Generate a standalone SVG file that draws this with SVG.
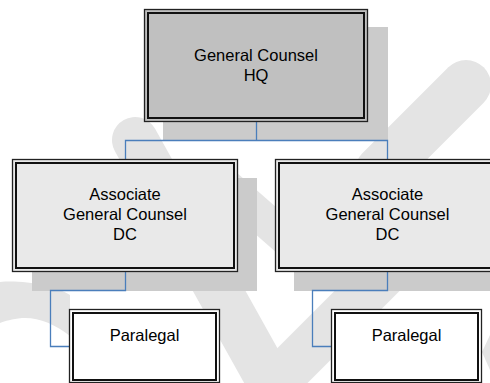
<svg xmlns="http://www.w3.org/2000/svg" width="490" height="383" viewBox="0 0 490 383">
  <style>
    .wm { fill: none; stroke: #e4e4e4; stroke-linecap: round; stroke-linejoin: round; }
    .wmf { fill: #e4e4e4; }
    .shadow { fill: #cbcbcb; }
    .outer { fill: none; stroke: #222; stroke-width: 1.3; }
    .inner { fill: none; stroke: #111; stroke-width: 2; }
    .top { fill: #c0c0c0; }
    .mid { fill: #e9e9e9; }
    .leaf { fill: #ffffff; }
    .lbl { font-family: "Liberation Sans", Arial, sans-serif; font-size: 16.5px; fill: #000; text-anchor: middle; }
    .conn { fill: none; stroke: #4a7ebb; stroke-width: 1.3; }
  </style>

  <rect width="490" height="383" fill="#ffffff"/>

  <!-- background watermark strokes -->
  <g id="watermark">
    <path class="wm" d="M135,140 L280,400" stroke-width="46"/>
    <path class="wm" d="M290,368 L420,238" stroke-width="46"/>
    <path class="wm" d="M466,85 L380,171" stroke-width="50"/>
    <path class="wm" d="M225,185 L305,255" stroke-width="34"/>
    <path class="wmf" d="M0,282 C25,280 55,286 70,295 L70,336 C55,324 38,317 22,318 C12,319 5,321 0,323 Z"/>
    <path class="wmf" d="M490,335 L482,352 L490,370 Z"/>
  </g>

  <!-- drop shadows -->
  <g id="shadows">
    <rect class="shadow" x="163" y="27" width="225" height="114"/>
    <rect class="shadow" x="32" y="178" width="225" height="113"/>
    <rect class="shadow" x="294" y="178" width="225" height="113"/>
  </g>

  <!-- connectors -->
  <g id="connectors">
    <path class="conn" d="M256.5,122 V140.5 M125.5,159 V140.5 H387.5 V159"/>
    <path class="conn" d="M125.5,272 V290.5 H50.5 V346.5 H69"/>
    <path class="conn" d="M387.5,272 V290.5 H312.5 V346.5 H331"/>
  </g>

  <g id="general-counsel">
    <rect class="top" x="144.5" y="9.5" width="223" height="112"/>
    <rect class="outer" x="144.5" y="9.5" width="223" height="112"/>
    <rect class="inner" x="148" y="13" width="216" height="105"/>
    <text class="lbl" x="256" y="61">General Counsel</text>
    <text class="lbl" x="256" y="81">HQ</text>
  </g>

  <g id="agc-left">
    <rect class="mid" x="12.5" y="159.5" width="225" height="112"/>
    <rect class="outer" x="12.5" y="159.5" width="225" height="112"/>
    <rect class="inner" x="16" y="163" width="218" height="105"/>
    <text class="lbl" x="125" y="200">Associate</text>
    <text class="lbl" x="125" y="220">General Counsel</text>
    <text class="lbl" x="125" y="240">DC</text>
  </g>

  <g id="agc-right">
    <rect class="mid" x="275.5" y="159.5" width="225" height="112"/>
    <rect class="outer" x="275.5" y="159.5" width="225" height="112"/>
    <rect class="inner" x="279" y="163" width="218" height="105"/>
    <text class="lbl" x="387.5" y="200">Associate</text>
    <text class="lbl" x="387.5" y="220">General Counsel</text>
    <text class="lbl" x="387.5" y="240">DC</text>
  </g>

  <g id="paralegal-left">
    <rect class="leaf" x="69.5" y="309.5" width="150" height="73"/>
    <rect class="outer" x="69.5" y="309.5" width="150" height="73"/>
    <rect class="inner" x="73" y="313" width="143" height="67"/>
    <text class="lbl" x="144.5" y="341">Paralegal</text>
  </g>

  <g id="paralegal-right">
    <rect class="leaf" x="331.5" y="309.5" width="150" height="73"/>
    <rect class="outer" x="331.5" y="309.5" width="150" height="73"/>
    <rect class="inner" x="335" y="313" width="143" height="67"/>
    <text class="lbl" x="406.5" y="341">Paralegal</text>
  </g>
</svg>
